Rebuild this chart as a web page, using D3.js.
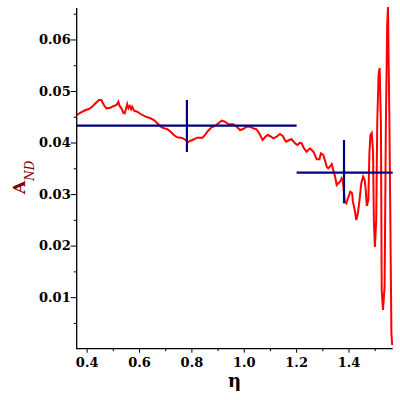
<!DOCTYPE html>
<html>
<head>
<meta charset="utf-8">
<script src="https://cdn.jsdelivr.net/npm/d3@7"></script>
<style>
  html, body { margin: 0; padding: 0; background: #fff; }
  svg { display: block; }
  .tick text { font-family: "DejaVu Serif", serif; font-size: 13px; font-weight: bold; fill: #000; }
</style>
</head>
<body>
<svg id="chart" width="400" height="400"></svg>
<script>
// ---- data ----
const eta = [0.360,0.375,0.394,0.407,0.419,0.432,0.445,0.454,0.464,0.473,0.489,0.502,0.512,0.519,0.524,0.531,0.538,0.543,0.549,0.553,0.558,0.563,0.568,0.572,0.579,0.591,0.604,0.623,0.642,0.655,0.668,0.678,0.687,0.706,0.719,0.731,0.744,0.763,0.776,0.785,0.795,0.808,0.820,0.841,0.850,0.862,0.875,0.888,0.901,0.914,0.926,0.939,0.958,0.971,0.984,0.996,1.009,1.022,1.034,1.047,1.057,1.070,1.079,1.089,1.098,1.111,1.124,1.136,1.147,1.159,1.172,1.181,1.194,1.203,1.213,1.219,1.228,1.238,1.251,1.264,1.277,1.287,1.293,1.302,1.308,1.315,1.321,1.327,1.334,1.340,1.347,1.353,1.359,1.366,1.372,1.377,1.384,1.390,1.396,1.405,1.412,1.415,1.422,1.428,1.434,1.441,1.447,1.454,1.460,1.464,1.468,1.474,1.478,1.482,1.487,1.492,1.495,1.499,1.504,1.508,1.513,1.517,1.522,1.525,1.530,1.536,1.541,1.546,1.549,1.554,1.558,1.562,1.565];
const aND = [0.04544,0.04589,0.04641,0.04660,0.04705,0.04771,0.04835,0.04835,0.04738,0.04674,0.04686,0.04719,0.04738,0.04802,0.04719,0.04674,0.04589,0.04577,0.04674,0.04757,0.04674,0.04719,0.04655,0.04705,0.04628,0.04608,0.04563,0.04511,0.04480,0.04447,0.04383,0.04331,0.04298,0.04267,0.04220,0.04156,0.04111,0.04098,0.04059,0.04014,0.04045,0.04073,0.04104,0.04104,0.04156,0.04239,0.04305,0.04331,0.04383,0.04434,0.04414,0.04369,0.04364,0.04317,0.04253,0.04272,0.04317,0.04317,0.04286,0.04267,0.04189,0.04059,0.04111,0.04156,0.04137,0.04092,0.04123,0.04175,0.04137,0.04026,0.04059,0.04073,0.03995,0.03962,0.04007,0.03995,0.03898,0.03832,0.03898,0.03832,0.03685,0.03685,0.03801,0.03768,0.03671,0.03541,0.03510,0.03541,0.03593,0.03477,0.03347,0.03186,0.03219,0.03250,0.03316,0.03264,0.02862,0.02831,0.02928,0.03056,0.03025,0.02862,0.02701,0.02507,0.02637,0.02928,0.03219,0.03347,0.03283,0.03089,0.02778,0.02895,0.03807,0.04156,0.04195,0.03826,0.02507,0.01983,0.02507,0.04408,0.05320,0.05456,0.04389,0.01152,0.00761,0.01208,0.04389,0.06291,0.06640,0.04583,0.02507,0.00314,0.00081];

// horizontal mean lines: start eta, end eta, value
const meanStart = [0.36, 1.2];
const meanEnd   = [1.2, 1.567];
const meanValue = [0.04336, 0.03425];
// vertical bars: eta, low, high
const barEta  = [0.781, 1.381];
const barLow  = [0.03826, 0.02831];
const barHigh = [0.04835, 0.04059];

const xTicks = [0.4, 0.6, 0.8, 1.0, 1.2, 1.4];
const xMinor = [0.5, 0.7, 0.9, 1.1, 1.3, 1.5];
const yTicks = [0.01, 0.02, 0.03, 0.04, 0.05, 0.06];
const yMinor = [0.005, 0.015, 0.025, 0.035, 0.045, 0.055, 0.065];

// ---- drawing ----
const svg = d3.select("#chart");
const x = d3.scaleLinear().domain([0.36, 1.567]).range([76.7, 392.7]);
const y = d3.scaleLinear().domain([0, 0.0662]).range([349.2, 8]);

// red curve
const line = d3.line().x((d, i) => x(eta[i])).y(d => y(d));
svg.append("path")
  .attr("d", line(aND))
  .attr("fill", "none")
  .attr("stroke", "#ff0000")
  .attr("stroke-width", 2)
  .attr("stroke-linejoin", "miter");

// crosshairs
const navy = "#000080";
svg.selectAll("line.mean").data(meanValue).join("line")
  .attr("class", "mean")
  .attr("x1", (d, i) => x(meanStart[i])).attr("x2", (d, i) => x(meanEnd[i]))
  .attr("y1", d => y(d)).attr("y2", d => y(d))
  .attr("stroke", navy).attr("stroke-width", 2.2);
svg.selectAll("line.bar").data(barEta).join("line")
  .attr("class", "bar")
  .attr("x1", d => x(d)).attr("x2", d => x(d))
  .attr("y1", (d, i) => y(barLow[i])).attr("y2", (d, i) => y(barHigh[i]))
  .attr("stroke", navy).attr("stroke-width", 2.2);

// axes
const xAxisG = svg.append("g").attr("transform", `translate(0,${y(0) - 0.5})`)
  .call(d3.axisBottom(x).tickValues(xTicks).tickFormat(d3.format(".1f")).tickSize(4).tickPadding(2).offset(0));
xAxisG.selectAll(".tick text").attr("y", 18).attr("dy", 0);
xAxisG.append("g").selectAll("line").data(xMinor).join("line")
  .attr("x1", d => x(d)).attr("x2", d => x(d)).attr("y1", 0).attr("y2", 2.5)
  .attr("stroke", "#000");

const yAxisG = svg.append("g").attr("transform", `translate(${x(0.36)},0)`)
  .call(d3.axisLeft(y).tickValues(yTicks).tickFormat(d3.format(".2f")).tickSize(6).tickPadding(0).offset(0));
yAxisG.append("g").selectAll("line").data(yMinor).join("line")
  .attr("y1", d => y(d)).attr("y2", d => y(d)).attr("x1", 0).attr("x2", -3)
  .attr("stroke", "#000");
yAxisG.select(".domain").attr("d", `M0,${y(0)}V8`);
xAxisG.select(".domain").attr("d", `M${x(0.36)},0H${x(1.567)}`);
svg.selectAll(".domain").attr("stroke", "#000").attr("stroke-width", 1.3);

// axis titles
svg.append("text")
  .attr("x", 234.5).attr("y", 387)
  .attr("text-anchor", "middle")
  .attr("font-family", "DejaVu Serif, serif")
  .attr("font-weight", "bold").attr("font-size", 18)
  .attr("fill", "#000")
  .text("η");

const yl = svg.append("text")
  .attr("transform", "translate(25,194) rotate(-90)")
  .attr("font-family", "DejaVu Serif, serif")
  .attr("fill", "#800000");
yl.append("tspan").attr("font-weight", "bold").attr("font-size", 17).text("A");
yl.append("tspan").attr("font-style", "italic").attr("font-size", 12).attr("dy", 9).text("ND");
</script>
</body>
</html>
